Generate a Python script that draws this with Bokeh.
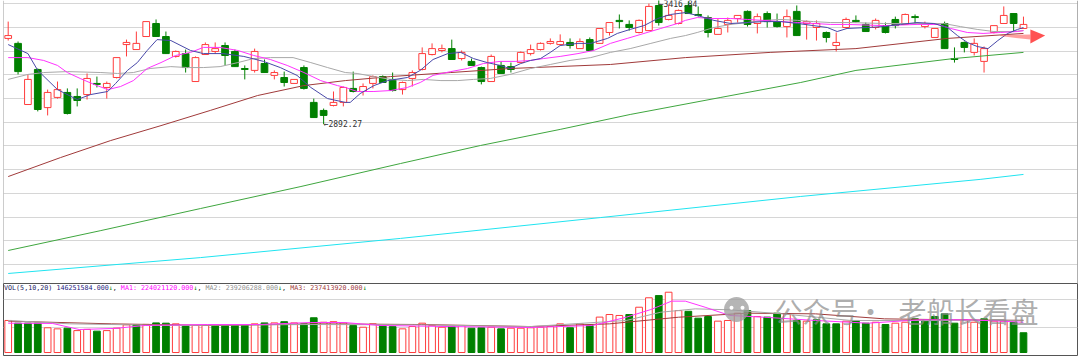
import numpy as np
from bokeh.plotting import figure
from bokeh.layouts import column
from bokeh.models import Range1d, Grid, FixedTicker, ColumnDataSource, Span
from bokeh.embed import file_html
from bokeh.resources import INLINE
from bokeh.core.properties import value

# ---------------- data ----------------
opens = [3254, 3233, 2975, 3123, 2962, 3005, 3026, 3009, 3017, 3064,
         3047, 3089, 3228, 3207, 3262, 3317, 3262, 3178, 3190, 3072,
         3186, 3199, 3224, 3199, 3127, 3119, 3148, 3098, 3089, 3064,
         3131, 2984, 2950, 2971, 2984, 3043, 3030, 3064, 3093, 3081,
         3038, 3085, 3123, 3186, 3203, 3211, 3169, 3157, 3131, 3072,
         3140, 3135, 3152, 3190, 3207, 3233, 3228, 3237, 3211, 3249,
         3233, 3279, 3330, 3313, 3279, 3287, 3393, 3334, 3317, 3393,
         3355, 3342, 3271, 3313, 3338, 3368, 3317, 3359, 3325, 3304,
         3368, 3317, 3300, 3279, 3224, 3300, 3330, 3313, 3300, 3308,
         3334, 3313, 3346, 3304, 3258, 3317, 3169, 3237, 3195, 3157,
         3279, 3317, 3359, 3296]
highs = [3325, 3241, 3102, 3127, 3038, 3072, 3043, 3043, 3106, 3093,
         3072, 3173, 3249, 3283, 3325, 3334, 3283, 3203, 3207, 3178,
         3237, 3237, 3237, 3207, 3140, 3211, 3165, 3119, 3114, 3081,
         3140, 3000, 2958, 3030, 3051, 3114, 3064, 3098, 3098, 3110,
         3072, 3119, 3216, 3233, 3228, 3249, 3203, 3169, 3135, 3186,
         3157, 3152, 3199, 3228, 3237, 3254, 3271, 3254, 3254, 3258,
         3296, 3321, 3355, 3330, 3334, 3401, 3416.84, 3397, 3376, 3410,
         3389, 3351, 3338, 3342, 3351, 3372, 3359, 3368, 3359, 3376,
         3393, 3330, 3330, 3283, 3279, 3342, 3351, 3321, 3338, 3321,
         3346, 3359, 3355, 3325, 3296, 3325, 3216, 3241, 3254, 3220,
         3308, 3389, 3359, 3346]
lows = [3245, 3102, 2975, 2946, 2929, 3000, 2933, 2967, 2996, 3047,
        3000, 3085, 3178, 3207, 3262, 3262, 3190, 3173, 3110, 3072,
        3186, 3190, 3140, 3135, 3081, 3110, 3110, 3081, 3051, 3064,
        3038, 2920, 2892.27, 2967, 2967, 3026, 3013, 3043, 3068, 3030,
        3017, 3051, 3119, 3182, 3195, 3165, 3161, 3140, 3060, 3072,
        3106, 3110, 3152, 3182, 3203, 3228, 3224, 3211, 3211, 3203,
        3233, 3266, 3296, 3287, 3275, 3287, 3308, 3330, 3313, 3359,
        3346, 3258, 3271, 3279, 3321, 3304, 3275, 3300, 3300, 3258,
        3266, 3249, 3245, 3237, 3199, 3296, 3321, 3283, 3292, 3275,
        3296, 3313, 3313, 3296, 3258, 3211, 3152, 3195, 3182, 3110,
        3275, 3317, 3283, 3296]
closes = [3266, 3114, 3081, 2954, 3026, 3038, 2937, 2992, 3085, 3060,
          3064, 3173, 3237, 3233, 3325, 3262, 3190, 3199, 3131, 3173,
          3228, 3211, 3182, 3135, 3123, 3199, 3110, 3110, 3068, 3081,
          3043, 2920, 2929, 2984, 3047, 3030, 3051, 3093, 3068, 3034,
          3068, 3110, 3190, 3211, 3211, 3165, 3195, 3140, 3072, 3178,
          3106, 3123, 3195, 3207, 3233, 3241, 3241, 3224, 3241, 3203,
          3296, 3321, 3325, 3300, 3330, 3389, 3321, 3351, 3372, 3359,
          3351, 3279, 3296, 3330, 3351, 3313, 3346, 3325, 3304, 3346,
          3266, 3325, 3317, 3258, 3237, 3334, 3325, 3283, 3330, 3279,
          3308, 3355, 3342, 3317, 3296, 3211, 3165, 3216, 3233, 3211,
          3308, 3351, 3317, 3313]
# volume, millions
volumes = [237, 217, 217, 217, 183, 175, 180, 162, 171, 158,
           162, 180, 205, 205, 208, 219, 217, 212, 200, 200,
           200, 205, 205, 205, 205, 212, 219, 219, 228, 219,
           212, 257, 224, 228, 219, 200, 187, 212, 200, 192,
           175, 192, 217, 200, 187, 192, 200, 180, 183, 187,
           175, 180, 180, 183, 187, 192, 212, 183, 212, 200,
           262, 281, 274, 281, 335, 405, 421, 446, 310, 305,
           254, 266, 232, 237, 291, 310, 266, 262, 291, 286,
           237, 232, 242, 212, 212, 232, 237, 217, 224, 207,
           217, 224, 249, 232, 266, 286, 217, 242, 224, 249,
           232, 232, 224, 146.251584]

# price moving averages (candle position, value)
ma5_x = [0, 2, 3, 5, 7, 8.35, 10.1, 10.9, 12.1, 13.1, 14.1, 15.1, 16.5, 18.5, 19.8, 21.8, 23.9, 25.9, 27.6, 29.3,
         30.7, 32.4, 34.2, 34.7, 35.7, 37.1, 38.5, 40.5, 41.8, 43.1, 44.6, 45.9, 47.2, 48.6, 49.9, 50.9, 52, 53, 54, 55,
         56, 57.8, 59.1, 60.8, 61.8, 63.1, 64.5, 65.9, 67.2, 68.7, 69.9, 71.6, 73.3, 75, 76.6, 78.4, 80.1, 81.7, 83.1, 84.1,
         85.1, 87.2, 88.8, 90.5, 92.2, 93.9, 95.3, 96.3, 97.3, 98.3, 99.4, 100.4, 101.4, 102.4, 103]
ma5_v = [3228, 3190, 3119, 3038, 2996, 3017, 3030, 3064, 3119, 3152, 3203, 3249, 3245, 3203, 3190, 3190, 3178, 3157, 3131, 3098,
         3047, 3000, 2984, 2984, 3021, 3055, 3076, 3089, 3119, 3165, 3190, 3195, 3169, 3152, 3140, 3127, 3148, 3161, 3169, 3195,
         3224, 3233, 3233, 3254, 3275, 3292, 3308, 3338, 3355, 3363, 3351, 3330, 3317, 3321, 3325, 3325, 3317, 3308, 3300, 3283,
         3296, 3300, 3304, 3313, 3321, 3317, 3300, 3266, 3237, 3220, 3211, 3245, 3275, 3292, 3300]
ma10_x = [0, 2.0, 3.6, 5.0, 6.0, 7.3, 8.7, 10.1, 11.4, 12.7, 14.1, 15.5, 17.0, 18.5, 19.8, 21.5, 23.3, 24.9, 26.6, 28.3,
          30.0, 31.7, 33.4, 34.2, 35.4, 37.1, 38.8, 40.5, 41.8, 43.1, 44.9, 46.6, 48.2, 49.9, 51.5, 53.0, 54.3, 56.0, 57.8, 59.4,
          61.1, 62.8, 64.5, 66.2, 67.9, 68.7, 69.9, 71.6, 73.3, 75.0, 76.6, 78.4, 80.1, 81.7, 83.4, 85.1, 88.8, 92.2, 94.3, 95.6,
          97.3, 98.9, 100.7, 102.4, 103]
ma10_v = [3173, 3173, 3161, 3140, 3110, 3085, 3060, 3038, 3051, 3076, 3127, 3152, 3182, 3195, 3216, 3216, 3203, 3182, 3165, 3140,
          3110, 3076, 3055, 3047, 3030, 3030, 3034, 3047, 3068, 3098, 3114, 3127, 3148, 3157, 3157, 3161, 3169, 3178, 3190, 3203,
          3233, 3254, 3275, 3296, 3317, 3330, 3342, 3338, 3338, 3334, 3330, 3325, 3321, 3317, 3313, 3313, 3308, 3313, 3313, 3296,
          3279, 3275, 3279, 3283, 3287]
ma20_x = [0, 2.0, 3.6, 6.0, 9.4, 11.1, 12.7, 14.4, 16.5, 18.2, 19.8, 21.5, 23.3, 24.9, 26.6, 28.9, 30.7, 32.4, 34.2, 35.4,
          37.1, 38.8, 40.5, 42.1, 43.9, 45.6, 47.2, 48.9, 50.9, 53.0, 55.0, 57.0, 59.1, 61.1, 63.1, 65.2, 67.2, 68.7, 69.9, 71.6,
          73.3, 75.0, 76.6, 78.4, 80.1, 81.7, 83.4, 85.4, 88.8, 92.2, 94.9, 96.6, 98.3, 100.0, 101.7, 103]
ma20_v = [3081, 3102, 3110, 3114, 3110, 3106, 3110, 3127, 3135, 3131, 3131, 3135, 3152, 3169, 3173, 3173, 3152, 3131, 3110, 3106,
          3093, 3081, 3076, 3081, 3076, 3076, 3081, 3085, 3102, 3127, 3144, 3161, 3173, 3195, 3211, 3233, 3254, 3266, 3279, 3300,
          3313, 3321, 3330, 3334, 3330, 3325, 3321, 3321, 3317, 3317, 3317, 3304, 3292, 3283, 3283, 3287]
ma60_x = [0, 5.3, 10.4, 15.5, 20.5, 25.3, 30.0, 34.2, 38.8, 44.9, 50.9, 61.1, 68.7, 77.3, 86.0, 95.3, 103]
ma60_v = [2671, 2751, 2823, 2886, 2950, 3013, 3055, 3076, 3093, 3110, 3127, 3144, 3173, 3195, 3211, 3254, 3275]
ma120_x = [0, 9.4, 19.5, 29.7, 39.8, 47.9, 56.0, 63.1, 72.3, 80.4, 86.0, 95.9, 103]
ma120_v = [2359, 2443, 2536, 2629, 2726, 2802, 2870, 2933, 3005, 3068, 3119, 3169, 3195]
ma250_x = [0, 19.5, 39.8, 60.1, 80.4, 98.6, 103]
ma250_v = [2262, 2329, 2410, 2498, 2587, 2659, 2680]

# volume moving averages (millions)
vma5_x = [0, 4.5, 7.2, 10.8, 13.9, 20.2, 25.4, 30.7, 34.1, 37.7, 44.7, 53, 59.3, 62.7, 65.2, 67.3, 68.7, 70.7, 73.2, 76.7,
          81.9, 87.2, 92.5, 97.6, 103]
vma5_v = [217, 215, 170, 178, 200, 207, 207, 222, 222, 200, 192, 185, 200, 261, 318, 380, 380, 335, 274, 261,
          237, 217, 242, 242, 224.02112]
vma10_x = [0, 6.2, 16.7, 30.7, 41.1, 53, 62.7, 66.2, 69.7, 73.2, 78.5, 85.5, 92.5, 103]
vma10_v = [237, 212, 200, 207, 205, 192, 237, 298, 323, 316, 286, 237, 237, 239.206288]
vma20_x = [0, 10.5, 20.9, 31.5, 41.9, 53, 61, 68, 75, 81.9, 88.9, 95.9, 103]
vma20_v = [232, 212, 200, 212, 207, 192, 212, 261, 291, 286, 249, 242, 237.41392]

vol_header = ["VOL(5,10,20)", "146251584.000", "\u2193", ",", "MA1: 224021120.000", "\u2193", ",",
              "MA2: 239206288.000", "\u2193", ",", "MA3: 237413920.000", "\u2193"]
watermark = ["公众号", "·", "老船长看盘"]
price_grid = [2300, 2400, 2500, 2600, 2700, 2800, 2900, 3000, 3100, 3200, 3300, 3400]
vol_grid = [185, 392]

# ---------------- styling / geometry ----------------
RED = "#ff3c3c"
GREEN = "#008000"
X0, X1 = -0.477, 108.48
FRAME_L, FRAME_W = 3, 1074
PXU = FRAME_W / (X1 - X0)


def px2i(px):
    return X0 + (px - FRAME_L) / PXU


o = np.array(opens, float)
h = np.array(highs, float)
l = np.array(lows, float)
c = np.array(closes, float)
n = len(c)
idx = np.arange(n)
up = c >= o
prev = np.concatenate([[c[0]], c[:-1]])
vup = c >= prev


def make_fig(height, yr, bottom, outline):
    f = figure(width=1080, height=height, x_range=Range1d(X0, X1), y_range=yr,
               output_backend="svg", toolbar_location=None, x_axis_location=None, y_axis_location=None,
               min_border_left=FRAME_L, min_border_right=1080 - FRAME_L - FRAME_W, min_border_top=0,
               min_border_bottom=bottom, outline_line_color=outline, outline_line_width=1,
               background_fill_color="white", border_fill_color="white")
    for g in list(f.center):
        if isinstance(g, Grid):
            f.center.remove(g)
    return f


p = make_fig(283, Range1d(2219.7, 3414.0), 0, None)
p.add_layout(Grid(dimension=1, ticker=FixedTicker(ticks=price_grid), grid_line_color="#d6d6d6", grid_line_width=1))
p.add_layout(Span(location=X0, dimension="height", line_color="#9a9a9a", line_width=1))
p.add_layout(Span(location=X1, dimension="height", line_color="#606060", line_width=1))

cs = ColumnDataSource(dict(x=idx, o=o, h=h, l=l, c=c,
                           top=np.maximum(o, c), bot=np.minimum(o, c),
                           col=[RED if u else GREEN for u in up],
                           fill=["white" if u else GREEN for u in up]))
p.segment(x0="x", y0="h", x1="x", y1="l", source=cs, line_color="col", line_width=1)
p.vbar(x="x", width=0.68, top="top", bottom="bot", source=cs, fill_color="fill", line_color="col", line_width=1)

for xs, vs, col in [(ma250_x, ma250_v, "#20e4f0"), (ma120_x, ma120_v, "#3fa63f"), (ma60_x, ma60_v, "#a03a3a"),
                    (ma20_x, ma20_v, "#a8a8a8"), (ma10_x, ma10_v, "#ff33ff"), (ma5_x, ma5_v, "#4848a8")]:
    p.line(xs, vs, line_color=col, line_width=1)

lo_i = int(np.argmin(l))
hi_i = int(np.argmax(h))
p.text(x=[lo_i], y=[l[lo_i]], text=["\u2190%.2f" % l[lo_i]],
       text_font=value("DejaVu Sans Mono"), text_font_size="8px", text_baseline="middle", text_align="left",
       text_color="#303030")
p.text(x=[hi_i], y=[h[hi_i]], text=["\u2190%.2f" % h[hi_i]], y_offset=5,
       text_font=value("DejaVu Sans Mono"), text_font_size="8px", text_baseline="middle", text_align="left",
       text_color="#303030")

# red arrow at the right
lvl = c[-1] - 51
ax0, ax1, ax2 = n - 1 - 2.35, n - 1 + 0.7, n - 1 + 2.2
p.patch([ax0, ax1, ax1, ax0], [lvl + 6, lvl + 9, lvl - 13, lvl + 2], fill_color="#ff5050", fill_alpha=0.55,
        line_color=None)
p.patch([ax1, ax1, ax2, ax1, ax1], [lvl + 9, lvl + 30, lvl + 4, lvl - 29, lvl - 13], fill_color="#ff4848",
        fill_alpha=0.95, line_color=None)

# ---------------- volume panel ----------------
v = make_fig(74, Range1d(-22.2, 510.6), 2, "#555555")
v.x_range = p.x_range
v.add_layout(Grid(dimension=1, ticker=FixedTicker(ticks=vol_grid), grid_line_color="#d6d6d6", grid_line_width=1))

vs_ = ColumnDataSource(dict(x=idx, v=np.array(volumes, float),
                            col=[RED if u else GREEN for u in vup],
                            fill=["white" if u else GREEN for u in vup]))
v.vbar(x="x", width=0.68, top="v", bottom=0, source=vs_, fill_color="fill", line_color="col", line_width=1)
for xs, vv, col in [(vma20_x, vma20_v, "#a03a3a"), (vma10_x, vma10_v, "#a8a8a8"), (vma5_x, vma5_v, "#ff33ff")]:
    v.line(xs, vv, line_color=col, line_width=1)

# header text
cw = 4.03
hdr_cols = ["#202060", "#202080", "#008000", "#202020", "#ff00ff", "#008000", "#202020",
            "#909090", "#008000", "#202020", "#a03a3a", "#008000"]
hx, px = [], 3.5
for i, s in enumerate(vol_header):
    hx.append(px2i(px))
    px += len(s) * cw
    if s == "," or i == 0:
        px += cw
v.text(x=hx, y=[481] * len(hx), text=vol_header, text_color=hdr_cols, text_font=value("DejaVu Sans Mono"),
       text_font_size="6.7px", text_baseline="middle", text_align="left")

# watermark
v.scatter([px2i(736)], [318], size=25, marker="circle", fill_color="#9c9c9c", fill_alpha=0.75, line_color=None)
v.scatter([px2i(731), px2i(742)], [332, 332], size=4, marker="circle", fill_color="white", line_color=None)
v.text(x=[px2i(774), px2i(870), px2i(898)], y=[307, 307, 307], text=watermark,
       text_align=["left", "center", "left"], text_font=value("Noto Sans CJK SC"), text_font_size="28px",
       text_baseline="middle", text_color="#8a8a8a", text_alpha=0.7)

layout = column(p, v, spacing=0)
open("out.html", "w").write(file_html(layout, INLINE))
